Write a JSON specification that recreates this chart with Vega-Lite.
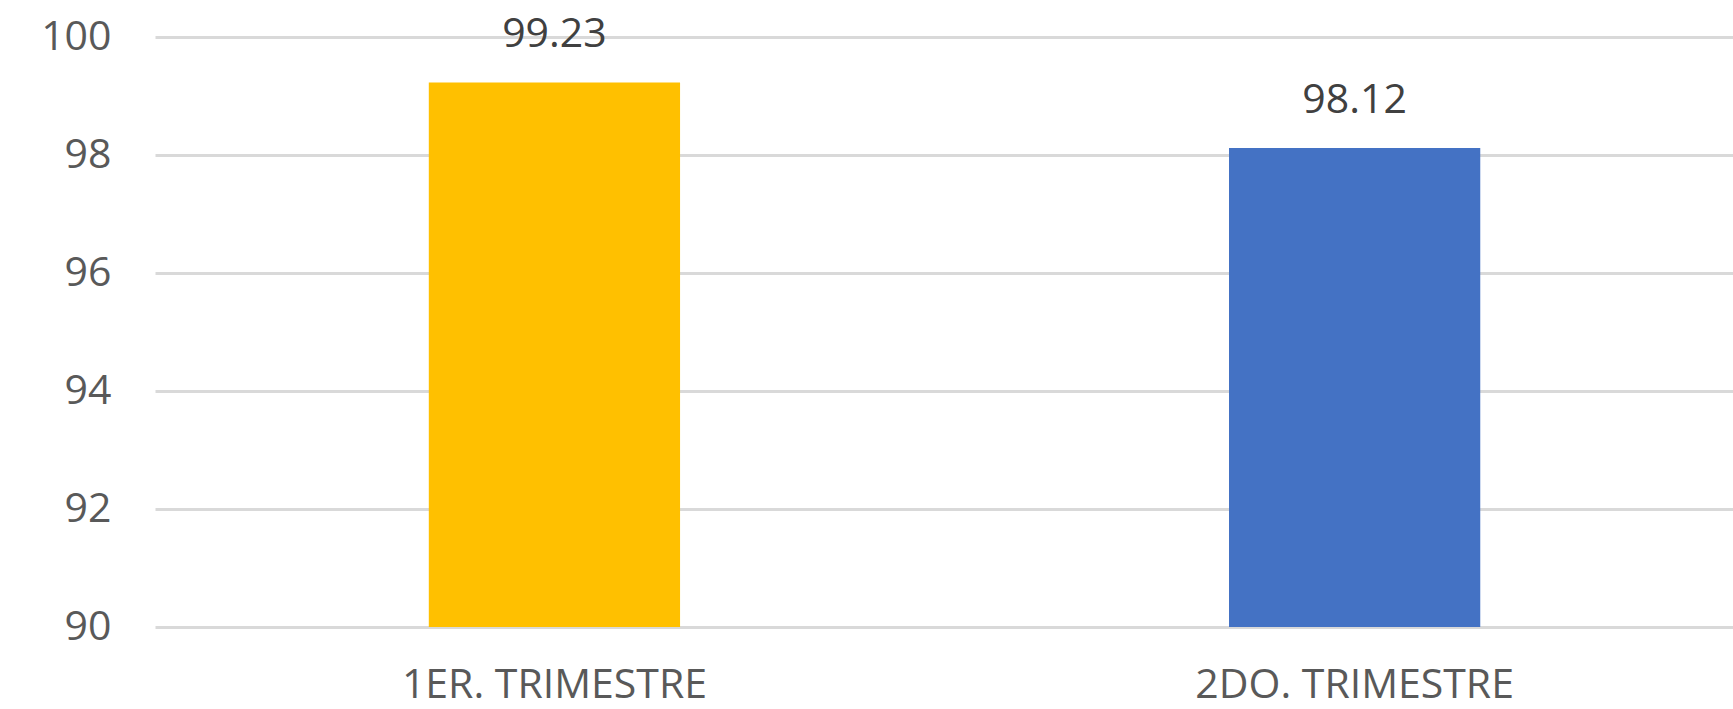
{
  "$schema": "https://vega.github.io/schema/vega-lite/v6.json",
  "width": 1578,
  "height": 590,
  "autosize": {"type": "none"},
  "padding": {"left": 155, "top": 37, "right": 0, "bottom": 82},
  "background": "white",
  "config": {"view": {"stroke": null}, "font": "Open Sans"},
  "data": {
    "values": [
      {"trimestre": "1ER. TRIMESTRE", "valor": 99.23},
      {"trimestre": "2DO. TRIMESTRE", "valor": 98.12}
    ]
  },
  "encoding": {
    "x": {
      "field": "trimestre",
      "type": "nominal",
      "sort": null,
      "scale": {"paddingInner": 0.686, "paddingOuter": 0.329, "align": 0.52},
      "axis": {
        "title": null,
        "labelAngle": 0,
        "domain": false,
        "ticks": false,
        "tickSize": 0,
        "labelFontSize": 41,
        "labelColor": "#595959",
        "labelBaseline": "alphabetic",
        "labelPadding": 70,
        "labelLimit": 0,
        "labelFont": "Open Sans"
      }
    }
  },
  "layer": [
    {
      "mark": {"type": "bar"},
      "encoding": {
        "y": {
          "field": "valor",
          "type": "quantitative",
          "scale": {"domain": [90, 100], "nice": false, "zero": false},
          "axis": {
            "title": null,
            "values": [90, 92, 94, 96, 98, 100],
            "format": "d",
            "grid": true,
            "gridColor": "#d9d9d9",
            "gridWidth": 3,
            "domain": false,
            "ticks": false,
            "tickSize": 0,
            "labelFontSize": 41,
            "labelColor": "#595959",
            "labelPadding": 44,
            "labelFont": "Open Sans"
          }
        },
        "y2": {"datum": 90},
        "color": {
          "field": "trimestre",
          "type": "nominal",
          "sort": null,
          "scale": {"range": ["#FFC000", "#4472C4"]},
          "legend": null
        }
      }
    },
    {
      "mark": {"type": "text", "dy": -35, "baseline": "alphabetic", "fontSize": 41, "color": "#404040", "font": "Open Sans"},
      "encoding": {
        "y": {"field": "valor", "type": "quantitative"},
        "text": {"field": "valor", "type": "quantitative", "format": ".2f"}
      }
    }
  ]
}
